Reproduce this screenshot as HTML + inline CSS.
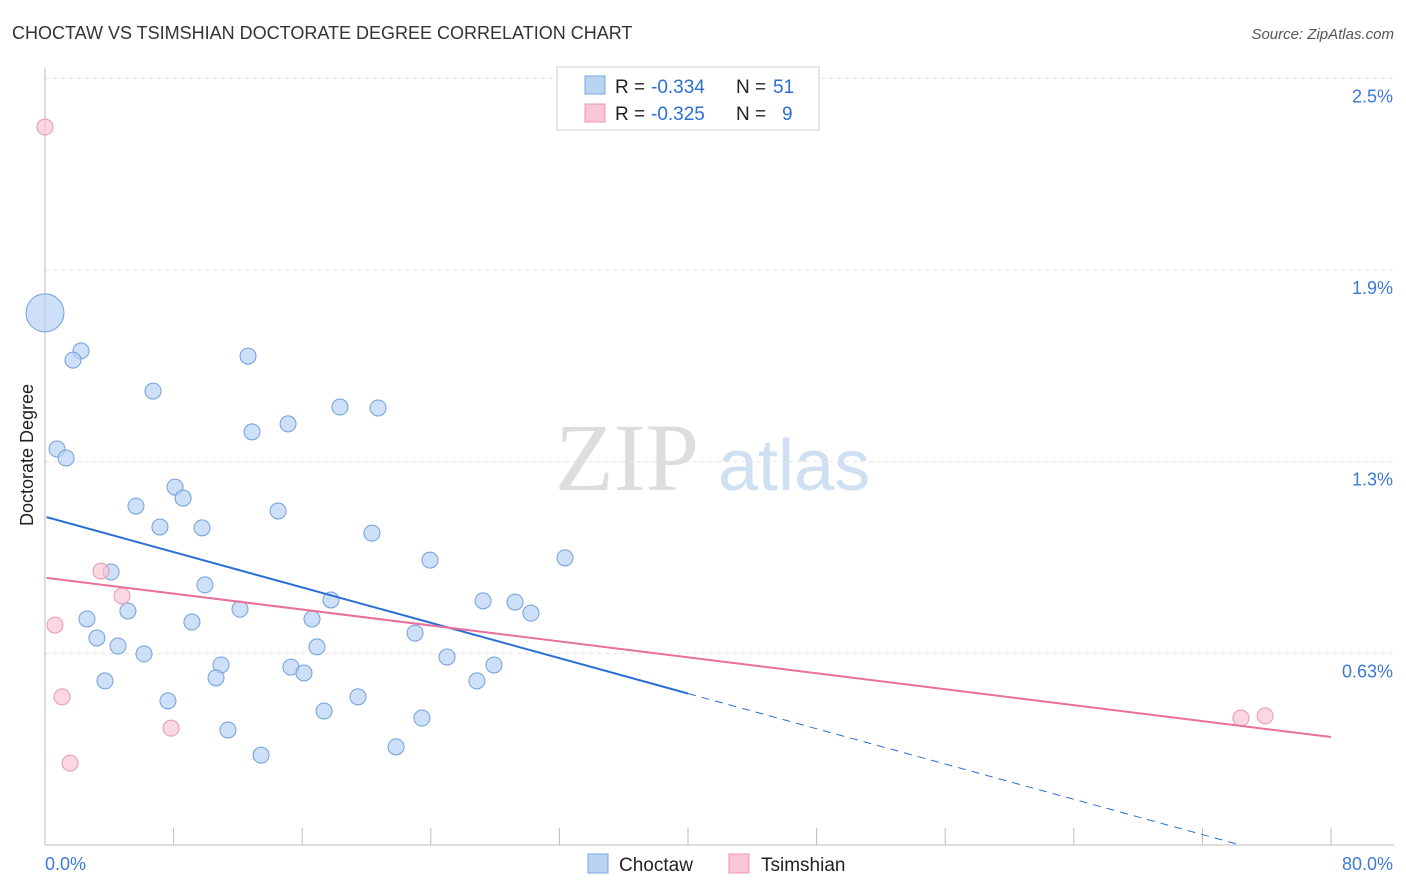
<!DOCTYPE html>
<html><head><meta charset="utf-8"><style>
body{margin:0;background:#fff;font-family:"Liberation Sans",sans-serif;}
svg{display:block}
</style></head><body>
<svg width="1406" height="892" id="c">
<text x="12" y="39" font-size="18" fill="#333">CHOCTAW VS TSIMSHIAN DOCTORATE DEGREE CORRELATION CHART</text>
<text x="1394" y="39" font-size="15" fill="#555" font-style="italic" text-anchor="end">Source: ZipAtlas.com</text>
<text x="33" y="455" font-size="18" fill="#222" text-anchor="middle" transform="rotate(-90 33 455)">Doctorate Degree</text>
<text x="555" y="490" font-size="96" fill="#ddd" font-family="Liberation Serif,serif">ZIP</text>
<text x="718" y="490" font-size="72" fill="#cfe0f3">atlas</text>
<g id="grid"></g><g id="marks"></g>
<g font-size="19">
<rect x="557" y="67" width="262" height="63" fill="#fff" stroke="#ccc"/>
<rect x="585" y="76" width="20" height="18" fill="#b9d3f3" stroke="#7aa7e0"/>
<rect x="585" y="104" width="20" height="18" fill="#f8c6d4" stroke="#e89ab1"/>
<text x="615" y="93" fill="#222">R =</text><text x="651" y="93" fill="#2a6fd6">-0.334</text>
<text x="736" y="93" fill="#222">N =</text><text x="773" y="93" fill="#2a6fd6">51</text>
<text x="615" y="120" fill="#222">R =</text><text x="651" y="120" fill="#2a6fd6">-0.325</text>
<text x="736" y="120" fill="#222">N =</text><text x="782" y="120" fill="#2a6fd6">9</text>
</g>
<g>
<rect x="588" y="854" width="20" height="19" fill="#b9d3f3" stroke="#7aa7e0"/>
<text x="619" y="871" font-size="19" fill="#222">Choctaw</text>
<rect x="729" y="854" width="20" height="19" fill="#f8c6d4" stroke="#e89ab1"/>
<text x="761" y="871" font-size="19" fill="#222">Tsimshian</text>
</g>
</svg>
<script>
const yTicks=[0.625,1.25,1.875,2.5];
const yTickLabels=["0.63%","1.3%","1.9%","2.5%"];
const xTickLabels=["0.0%","80.0%"];
const blueX=[0,2.24,1.74,6.72,12.63,0.75,1.31,12.88,15.12,18.35,20.72,5.66,8.09,8.59,7.15,9.77,14.5,20.34,23.95,32.35,4.11,9.95,17.79,27.25,29.24,30.23,2.61,5.16,9.14,12.13,16.61,3.23,4.54,6.16,23.02,16.92,25.01,10.95,15.3,16.11,27.93,3.73,10.64,26.87,7.65,19.47,17.36,23.45,11.38,13.44,21.84];
const blueY=[1.735,1.611,1.581,1.48,1.594,1.291,1.262,1.347,1.373,1.428,1.425,1.105,1.167,1.131,1.037,1.034,1.089,1.017,0.929,0.936,0.89,0.848,0.799,0.796,0.792,0.756,0.737,0.763,0.727,0.769,0.737,0.675,0.649,0.623,0.691,0.646,0.613,0.587,0.58,0.561,0.587,0.535,0.545,0.535,0.47,0.483,0.437,0.414,0.375,0.293,0.32];
const pinkX=[0,3.48,4.79,0.62,1.06,7.84,1.56,74.4,75.9];
const pinkY=[2.341,0.893,0.812,0.717,0.483,0.381,0.267,0.414,0.421];
const blueTrend=[1.069,0.494];
const pinkTrend=[0.871,0.352];
const X=v=>45+v/80*1286, Y=v=>845-v*306.7;
const NS="http://www.w3.org/2000/svg";
const grid=document.getElementById('grid'),marks=document.getElementById('marks');
function mk(p,tag,a){const e=document.createElementNS(NS,tag);for(const k in a)e.setAttribute(k,a[k]);p.appendChild(e);return e;}
yTicks.forEach((t,i)=>{
 const l=mk(grid,'line',{x1:45,x2:1394,y1:Y(t),y2:Y(t),stroke:'#e3e3e3','stroke-dasharray':'4,4'});
 
 
 const tx=mk(grid,'text',{x:1393,y:Y(t)+24,'font-size':18,fill:'#3d7ad6','text-anchor':'end'});
 tx.textContent=yTickLabels[i];
 
 
});
const ax=mk(grid,'line',{x1:45,x2:1394,y1:845,y2:845,stroke:'#bbb'});


const ay=mk(grid,'line',{x1:45,x2:45,y1:68,y2:845,stroke:'#bbb'});


for(let v=8;v<=80;v+=8){const t=mk(grid,'line',{x1:X(v),x2:X(v),y1:828,y2:845,stroke:'#bbb'});
 
 }
const xl0=mk(grid,'text',{x:45,y:870,'font-size':18,fill:'#3d7ad6'});xl0.textContent=xTickLabels[0];


const xl1=mk(grid,'text',{x:1393,y:870,'font-size':18,fill:'#3d7ad6','text-anchor':'end'});xl1.textContent=xTickLabels[1];


blueX.forEach((x,i)=>{const c=mk(marks,'circle',{cx:X(x),cy:Y(blueY[i]),r:i==0?19:8,fill:'#b9d3f3','fill-opacity':0.7,stroke:'#6f9fdc','stroke-width':1});
 
 });
pinkX.forEach((x,i)=>{const c=mk(marks,'circle',{cx:X(x),cy:Y(pinkY[i]),r:8,fill:'#f8c6d4','fill-opacity':0.7,stroke:'#e49ab0','stroke-width':1});
 
 });
const bs=(blueTrend[1]-blueTrend[0])/40, xz=-blueTrend[0]/bs;
const b1=mk(marks,'line',{x1:X(0.1),y1:Y(blueTrend[0]),x2:X(40),y2:Y(blueTrend[1]),stroke:'#2a6fd6','stroke-width':2});


const b2=mk(marks,'line',{x1:X(40),y1:Y(blueTrend[1]),x2:X(xz),y2:Y(0),stroke:'#2a6fd6','stroke-width':1,'stroke-dasharray':'8,6'});


const p1=mk(marks,'line',{x1:X(0.1),y1:Y(pinkTrend[0]),x2:X(80),y2:Y(pinkTrend[1]),stroke:'#e8709a','stroke-width':2});


</script>
</body></html>
